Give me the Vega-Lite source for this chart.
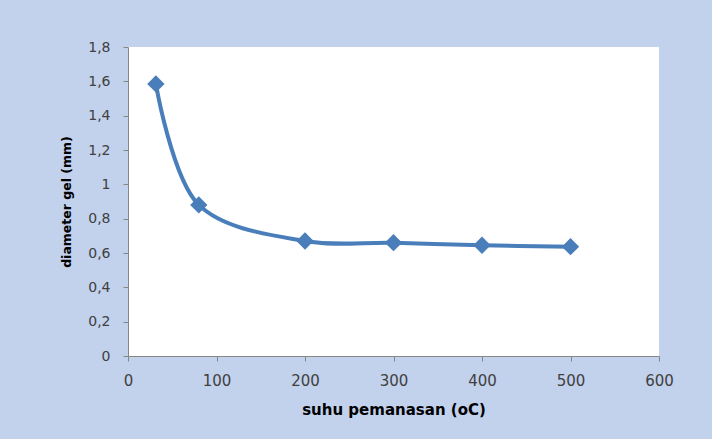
{
  "$schema": "https://vega.github.io/schema/vega-lite/v6.json",
  "width": 531,
  "height": 309,
  "autosize": {"type": "none"},
  "padding": {"left": 128, "top": 47, "right": 53, "bottom": 83},
  "background": "#c2d1ec",
  "config": {
    "view": {"fill": "white", "stroke": null},
    "font": "DejaVu Sans",
    "axis": {
      "grid": false,
      "labelFlush": false,
      "domainColor": "#868686",
      "tickColor": "#868686",
      "domainWidth": 1,
      "tickSize": 5,
      "labelFont": "DejaVu Sans",
      "labelFontSize": 15,
      "labelColor": "#404040",
      "titleFont": "DejaVu Sans",
      "titleColor": "#000000",
      "titleFontWeight": "bold"
    }
  },
  "data": {
    "values": [
      {"suhu": 31.5, "diameter": 1.585},
      {"suhu": 80, "diameter": 0.88},
      {"suhu": 200, "diameter": 0.67},
      {"suhu": 300, "diameter": 0.66},
      {"suhu": 400, "diameter": 0.645},
      {"suhu": 500, "diameter": 0.637}
    ]
  },
  "encoding": {
    "x": {
      "field": "suhu",
      "type": "quantitative",
      "scale": {"domain": [0, 600], "nice": false},
      "axis": {
        "values": [0, 100, 200, 300, 400, 500, 600],
        "title": "suhu pemanasan (oC)",
        "titleFontSize": 15,
        "labelPadding": 12,
        "titlePadding": 14
      }
    },
    "y": {
      "field": "diameter",
      "type": "quantitative",
      "scale": {"domain": [0, 1.8], "nice": false},
      "axis": {
        "values": [0, 0.2, 0.4, 0.6, 0.8, 1, 1.2, 1.4, 1.6, 1.8],
        "labelExpr": "replace(format(datum.value, ''), '.', ',')",
        "labelFontSize": 14,
        "title": "diameter gel (mm)",
        "titleFontSize": 12.5,
        "labelPadding": 13,
        "titlePadding": 14
      }
    }
  },
  "layer": [
    {
      "mark": {"type": "line", "interpolate": "catmull-rom", "color": "#4a7ebb", "strokeWidth": 4}
    },
    {
      "mark": {"type": "point", "shape": "diamond", "filled": true, "size": 300, "color": "#4a7ebb", "opacity": 1}
    }
  ]
}
